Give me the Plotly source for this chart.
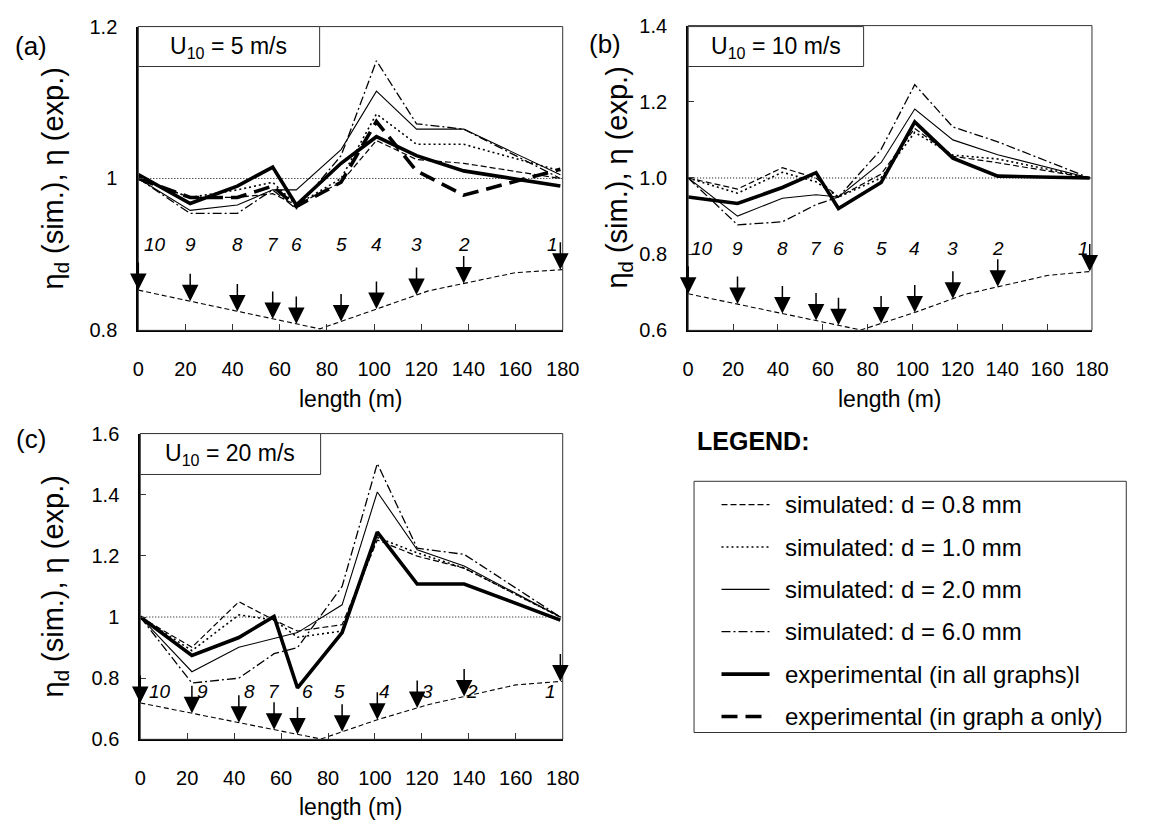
import numpy as np
import plotly.graph_objects as go

W, H = 1157, 836
FONT = "Liberation Sans, Arial, sans-serif"

# stations along the flume (m) and their numbers
station_x = [0, 22, 42, 57, 67, 86, 101, 118, 138, 179]
station_id = ["10", "9", "8", "7", "6", "5", "4", "3", "2", "1"]

# bed profile sketch (drawn in each panel's own units)
profile_x = [0, 57, 77, 101, 123, 160, 180]
a_profile = [0.853, 0.815, 0.802, 0.828, 0.852, 0.876, 0.880]
b_profile = [0.696, 0.626, 0.601, 0.647, 0.694, 0.744, 0.755]
c_profile = [0.719, 0.631, 0.601, 0.664, 0.714, 0.778, 0.790]

# (a) U10 = 5 m/s
a_d08 = [1.000, 0.975, 0.975, 0.980, 0.965, 0.995, 1.050, 1.025, 1.020, 1.000]
a_d10 = [1.000, 0.975, 0.985, 0.995, 0.965, 1.000, 1.085, 1.045, 1.045, 1.010]
a_d20 = [1.000, 0.958, 0.965, 0.985, 0.985, 1.038, 1.115, 1.065, 1.065, 1.005]
a_d60 = [1.000, 0.954, 0.954, 0.985, 0.960, 1.030, 1.155, 1.072, 1.065, 1.000]
a_exp = [1.005, 0.967, 0.990, 1.015, 0.965, 1.020, 1.055, 1.030, 1.010, 0.990]
a_exp_only = [1.000, 0.975, 0.975, 0.990, 0.963, 0.995, 1.075, 1.010, 0.978, 1.012]

# (b) U10 = 10 m/s
b_d08 = [1.000, 0.971, 1.027, 1.000, 0.950, 1.010, 1.130, 1.057, 1.040, 1.000]
b_d10 = [1.000, 0.960, 1.015, 0.990, 0.950, 1.000, 1.120, 1.060, 1.050, 1.000]
b_d20 = [1.000, 0.900, 0.947, 0.956, 0.950, 1.040, 1.181, 1.100, 1.061, 1.000]
b_d60 = [1.000, 0.877, 0.885, 0.930, 0.950, 1.075, 1.245, 1.134, 1.095, 1.000]
b_exp = [0.950, 0.933, 0.975, 1.014, 0.920, 0.988, 1.147, 1.052, 1.005, 1.000]

# (c) U10 = 20 m/s
c_d08 = [1.000, 0.901, 1.050, 0.990, 0.954, 0.975, 1.252, 1.199, 1.160, 1.000]
c_d10 = [1.000, 0.890, 1.007, 0.990, 0.934, 0.954, 1.260, 1.210, 1.160, 1.000]
c_d20 = [1.000, 0.821, 0.901, 0.930, 0.949, 1.040, 1.409, 1.220, 1.167, 1.000]
c_d60 = [1.000, 0.784, 0.800, 0.880, 0.900, 1.100, 1.502, 1.225, 1.205, 1.000]
c_exp = [1.000, 0.874, 0.933, 1.002, 0.768, 0.949, 1.278, 1.108, 1.108, 0.990]

legend_labels = [
    "simulated: d = 0.8 mm",
    "simulated: d = 1.0 mm",
    "simulated: d = 2.0 mm",
    "simulated: d = 6.0 mm",
    "experimental (in all graphs)l",
    "experimental (in graph a only)",
]

STYLES = {
    "d08": dict(color="black", width=1.2, dash="6px,3px"),
    "d10": dict(color="black", width=1.6, dash="2px,3px"),
    "d20": dict(color="black", width=1.1, dash="solid"),
    "d60": dict(color="black", width=1.3, dash="9px,3px,2px,3px"),
    "exp": dict(color="black", width=3.6, dash="solid"),
    "exp_only": dict(color="black", width=3.6, dash="16px,8px"),
}
legend_keys = ["d08", "d10", "d20", "d60", "exp", "exp_only"]


def px_x(p):
    return p / W


def px_y(p):
    return 1 - p / H


def paper_text(x, y, text, size, **kw):
    d = dict(x=px_x(x), y=px_y(y), xref="paper", yref="paper", text=text,
             showarrow=False, xanchor="center", yanchor="middle",
             font=dict(family=FONT, size=size, color="black"))
    d.update(kw)
    return d


panels = [
    dict(key="", xd=[135, 568], yd=[16, 328], yr=[0.8, 1.2], ytv=[0.8, 1.0, 1.2],
         ytt=["0.8", "1", "1.2"], lab="(a)", lab_xy=(25, 36), u="5",
         ubox=(135, 320, 16, 57), ytitle_x=50, lab_y=0.913,
         lab_shift=[17, 0, 0, 0, 0, 0, 0, 0, 0, -8],
         series=dict(d08=a_d08, d10=a_d10, d20=a_d20, d60=a_d60, exp=a_exp, exp_only=a_exp_only),
         profile=a_profile),
    dict(key="2", xd=[696, 1108], yd=[15, 328], yr=[0.6, 1.4],
         ytv=[0.6, 0.8, 1.0, 1.2, 1.4], ytt=["0.6", "0.8", "1.0", "1.2", "1.4"],
         lab="(b)", lab_xy=(611, 34), u="10", ubox=(696, 875, 16, 57), ytitle_x=625,
         lab_y=0.816, lab_shift=[14, 0, 0, 0, 0, 0, 0, 0, 0, -6],
         series=dict(d08=b_d08, d10=b_d10, d20=b_d20, d60=b_d60, exp=b_exp),
         profile=b_profile),
    dict(key="3", xd=[137, 568], yd=[434, 748], yr=[0.6, 1.6],
         ytv=[0.6, 0.8, 1.0, 1.2, 1.4, 1.6], ytt=["0.6", "0.8", "1", "1.2", "1.4", "1.6"],
         lab="(c)", lab_xy=(25, 440), u="20", ubox=(137, 321, 434, 476), ytitle_x=50,
         lab_y=0.755, lab_shift=[20, 11, 11, 0, 10, -3, 7, 10, 8, -10],
         series=dict(d08=c_d08, d10=c_d10, d20=c_d20, d60=c_d60, exp=c_exp),
         profile=c_profile),
]

fig = go.Figure()
annotations = []
shapes = []

for p in panels:
    k = p["key"]
    xa, ya = "x" + k, "y" + k
    # bed profile
    fig.add_trace(go.Scatter(x=profile_x, y=p["profile"], mode="lines", xaxis=xa, yaxis=ya,
                             line=dict(color="black", width=1.1, dash="5px,3px"),
                             showlegend=False, hoverinfo="skip"))
    for key in legend_keys:
        if key in p["series"]:
            fig.add_trace(go.Scatter(x=station_x, y=p["series"][key], mode="lines",
                                     xaxis=xa, yaxis=ya, line=STYLES[key], showlegend=False))
    # reference line at 1
    shapes.append(dict(type="line", xref=xa + " domain", yref=ya, x0=0, x1=1, y0=1, y1=1,
                       line=dict(color="black", width=1, dash="1px,2px"), layer="below"))
    # plot-area frame
    shapes.append(dict(type="rect", xref="paper", yref="paper",
                       x0=px_x(p["xd"][0]), x1=px_x(p["xd"][1]),
                       y0=px_y(p["yd"][1]), y1=px_y(p["yd"][0]),
                       line=dict(color="#333", width=1)))
    # station arrows (pointing down onto the profile) and station numbers
    tips = np.interp(station_x, profile_x, p["profile"])
    for sx, ty, sid, sh in zip(station_x, tips, station_id, p["lab_shift"]):
        annotations.append(dict(x=sx, y=ty, xref=xa, yref=ya, text="", showarrow=True,
                                ax=0, ay=-29, arrowhead=2, arrowsize=2.2, arrowwidth=1.5,
                                arrowcolor="black", standoff=0))
        annotations.append(dict(x=sx, y=p["lab_y"], xref=xa, yref=ya, xshift=sh,
                                text="<i>%s</i>" % sid, showarrow=False,
                                xanchor="center", yanchor="middle",
                                font=dict(family=FONT, size=19, color="black")))
    # speed box
    x0, x1, y0, y1 = p["ubox"]
    shapes.append(dict(type="rect", xref="paper", yref="paper", x0=px_x(x0), x1=px_x(x1),
                       y0=px_y(y1), y1=px_y(y0), line=dict(color="#333", width=1),
                       fillcolor="white"))
    annotations.append(paper_text((x0 + x1) / 2, (y0 + y1) / 2 + 1,
                                  "U<sub>10</sub> = %s m/s" % p["u"], 23))
    # panel letter
    annotations.append(paper_text(p["lab_xy"][0], p["lab_xy"][1], p["lab"], 26))
    # axis titles
    yc = (p["yd"][0] + p["yd"][1]) / 2
    annotations.append(paper_text(p["ytitle_x"], yc, "η<sub>d</sub> (sim.), η (exp.)", 29,
                                  textangle=-90))
    xc = (p["xd"][0] + p["xd"][1]) / 2
    annotations.append(paper_text(xc, p["yd"][1] + 70, "length (m)", 23))

    axis_common = dict(showgrid=False, zeroline=False, ticks="inside", ticklen=6,
                       tickcolor="#333", showline=True, linecolor="black", linewidth=2,
                       tickfont=dict(family=FONT, size=20, color="black"))
    fig.update_layout({
        "xaxis" + k: dict(domain=[px_x(p["xd"][0]), px_x(p["xd"][1])], range=[0, 180],
                          tickvals=list(range(0, 181, 20)), anchor=ya,
                          ticklabelstandoff=20, **axis_common),
        "yaxis" + k: dict(domain=[px_y(p["yd"][1]), px_y(p["yd"][0])], range=p["yr"],
                          tickvals=p["ytv"], ticktext=p["ytt"], anchor=xa,
                          ticklabelstandoff=15, **axis_common),
    })

# legend block
annotations.append(paper_text(703, 442, "<b>LEGEND:</b>", 25, xanchor="left"))
shapes.append(dict(type="rect", xref="paper", yref="paper", x0=px_x(702), x1=px_x(1143),
                   y0=px_y(741), y1=px_y(483), line=dict(color="#333", width=1)))
for i, (key, label) in enumerate(zip(legend_keys, legend_labels)):
    yy = 507 + i * 43.5
    shapes.append(dict(type="line", xref="paper", yref="paper", x0=px_x(730), x1=px_x(779),
                       y0=px_y(yy), y1=px_y(yy), line=STYLES[key]))
    annotations.append(paper_text(793, yy, label, 24, xanchor="left"))

fig.update_layout(width=W, height=H, margin=dict(l=0, r=0, t=0, b=0),
                  paper_bgcolor="white", plot_bgcolor="white", showlegend=False,
                  annotations=annotations, shapes=shapes)

fig.write_html("out.html")
